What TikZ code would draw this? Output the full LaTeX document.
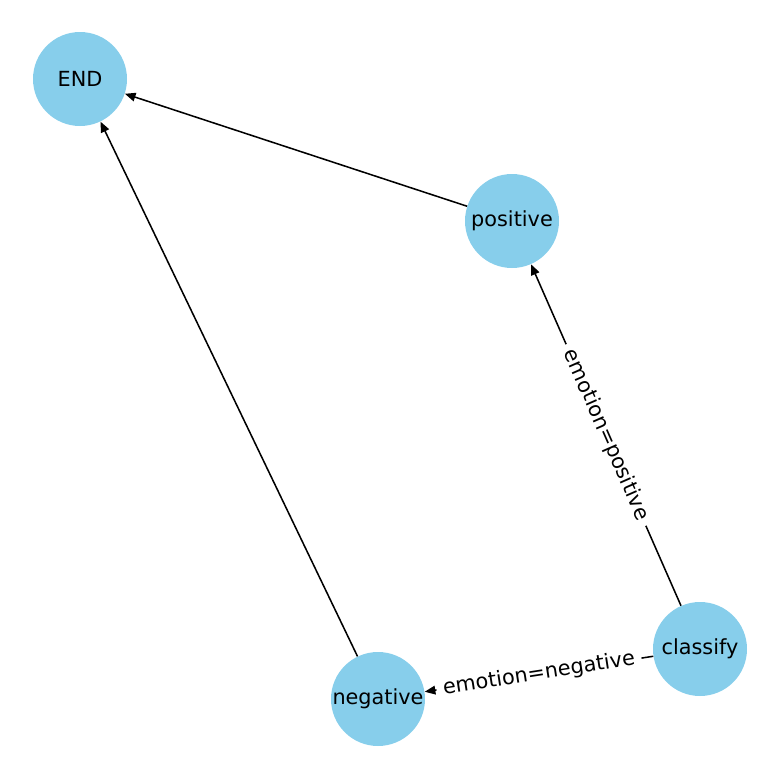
\documentclass[tikz,border=0pt]{standalone}
\usepackage{fontspec}
\setmainfont{DejaVu Sans}
\usepackage{tikz}
\usetikzlibrary{arrows.meta}
\definecolor{cSky}{HTML}{87CEEB}

\begin{document}
\begin{tikzpicture}[
    x=0.75pt, y=-0.75pt,
    arrow/.style={-{Triangle[length=8pt, width=6.5pt]}, line width=1.15pt},
    vertex/.style={circle, fill=cSky, minimum size=70.5pt, inner sep=0pt,
                   font=\fontsize{15.6}{18}\selectfont},
    lab/.style={fill=white, inner sep=5pt, sloped, pos=0.5,
                font=\fontsize{15.6}{18}\selectfont},
]

% ---------- Frame ----------
\useasboundingbox (0,0) rectangle (779,779);

% ---------- Nodes ----------
\node[vertex] (end)      at (80,79)   {END};
\node[vertex] (positive) at (512,221) {positive};
\node[vertex] (negative) at (378,699) {negative};
\node[vertex] (classify) at (700,649) {classify};

% ---------- Edges ----------
\draw[arrow] (positive) -- (end);
\draw[arrow] (negative) -- (end);
\draw[arrow] (classify) -- node[lab] {emotion=positive} (positive);
\draw[arrow] (classify) -- node[lab] {emotion=negative} (negative);

\end{tikzpicture}
\end{document}
